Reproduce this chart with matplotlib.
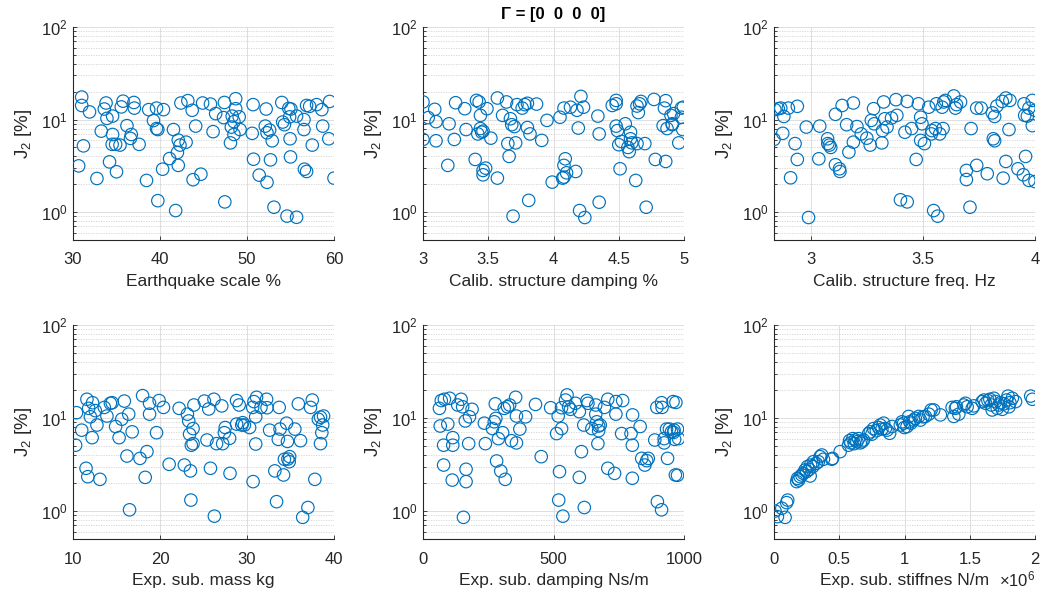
"""
J2 sensitivity scatter: six input parameters vs. J2 error, log y-axis.
"""
import matplotlib
matplotlib.use("Agg")
import matplotlib.pyplot as plt
from matplotlib.ticker import FixedLocator, FuncFormatter, LogLocator, NullFormatter

plt.rcParams['font.family'] = ['Liberation Sans', 'DejaVu Sans']
plt.rcParams['mathtext.fontset'] = 'custom'
plt.rcParams['mathtext.rm'] = 'Liberation Sans'
plt.rcParams['mathtext.it'] = 'Liberation Sans:italic'

# --- data --------------------------------------------------------------
quake_x = [30.65, 31.0, 31.0, 31.2, 31.9, 32.75, 33.25, 33.8, 33.6, 33.9, 34.2, 34.55, 34.55,
           34.5, 34.9, 35.0, 35.4, 35.55, 35.75, 36.2, 36.6, 36.7, 37.0, 37.05, 37.6, 38.45,
           38.7, 39.25, 39.6, 39.6, 39.75, 39.75, 40.3, 40.4, 41.1, 41.55, 41.8, 42.0, 42.1,
           42.1, 42.3, 42.4, 43.0, 43.2, 43.7, 43.8, 44.1, 44.7, 44.9, 45.8, 46.1, 46.4, 47.3,
           47.4, 47.45, 48.1, 48.2, 48.3, 48.5, 48.7, 48.7, 48.5, 49.1, 49.2, 50.6, 50.7,
           50.75, 51.4, 52.2, 52.3, 52.1, 52.3, 52.6, 52.7, 52.9, 53.1, 54.0, 54.1, 54.3, 54.6,
           54.8, 54.95, 55.0, 54.9, 55.05, 55.7, 55.7, 56.55, 56.55, 56.6, 56.85, 56.85, 57.2,
           57.5, 58.0, 58.6, 58.7, 59.4, 59.5, 60.0]
quake_j = [3.16, 17.5, 14.2, 5.2, 12.1, 2.31, 7.5, 15.1, 13.0, 10.3, 3.49, 6.9, 10.9, 5.4, 5.4,
           2.73, 5.3, 13.7, 15.8, 8.6, 6.26, 6.9, 15.3, 13.3, 5.4, 2.2, 12.8, 9.75, 13.3, 8.0,
           7.8, 1.33, 2.91, 12.8, 3.79, 7.8, 1.04, 4.4, 3.2, 6.0, 5.3, 15.1, 5.7, 16.0, 12.6,
           2.24, 8.5, 2.57, 15.1, 14.7, 7.4, 11.6, 10.5, 15.3, 1.29, 5.6, 8.3, 10.9, 9.5, 16.8,
           13.1, 6.9, 10.7, 7.8, 7.1, 14.5, 3.73, 2.51, 13.0, 2.1, 8.5, 7.2, 7.7, 3.67, 5.9,
           1.13, 15.3, 9.4, 8.8, 0.906, 13.2, 6.2, 3.95, 10.7, 13.0, 0.88, 10.9, 10.0, 7.8,
           2.91, 2.75, 14.2, 13.9, 5.3, 14.5, 12.8, 8.5, 6.2, 15.7, 2.33]

cdamp_x = [3.0, 3.0, 3.04, 3.09, 3.1, 3.1, 3.19, 3.2, 3.24, 3.25, 3.32, 3.33, 3.4, 3.41, 3.43,
           3.42, 3.44, 3.44, 3.45, 3.46, 3.46, 3.46, 3.48, 3.49, 3.52, 3.57, 3.57, 3.61, 3.64,
           3.65, 3.66, 3.67, 3.68, 3.69, 3.70, 3.71, 3.72, 3.76, 3.78, 3.80, 3.80, 3.81, 3.82,
           3.87, 3.91, 3.95, 3.99, 4.05, 4.07, 4.08, 4.08, 4.09, 4.08, 4.10, 4.13, 4.17, 4.19,
           4.18, 4.20, 4.21, 4.23, 4.24, 4.34, 4.35, 4.35, 4.45, 4.48, 4.48, 4.48, 4.49, 4.50,
           4.51, 4.52, 4.55, 4.57, 4.58, 4.59, 4.59, 4.60, 4.63, 4.64, 4.64, 4.65, 4.66, 4.67,
           4.70, 4.71, 4.77, 4.78, 4.85, 4.86, 4.86, 4.84, 4.87, 4.90, 4.91, 4.92, 4.98, 4.995,
           4.98, 4.91, 4.99, 4.96]
cdamp_j = [15.5, 6.1, 10.5, 12.9, 9.5, 5.9, 3.2, 9.0, 6.1, 15.2, 13.1, 7.8, 3.71, 16.1, 15.5,
           7.0, 8.0, 11.1, 7.3, 7.5, 2.82, 2.53, 2.99, 13.1, 6.3, 17.1, 2.33, 11.1, 15.5, 5.5,
           4.0, 10.2, 8.8, 0.905, 8.4, 5.6, 14.5, 13.3, 14.5, 15.0, 8.2, 1.34, 7.0, 14.7, 5.96,
           9.8, 2.11, 10.6, 2.33, 3.2, 13.3, 3.77, 2.39, 2.66, 13.6, 2.75, 8.1, 12.6, 1.04,
           17.8, 13.6, 0.875, 10.9, 7.0, 1.28, 14.2, 16.1, 14.8, 8.5, 7.6, 5.35, 2.94, 5.8,
           9.0, 5.0, 4.5, 7.3, 6.2, 5.6, 2.2, 14.0, 5.5, 11.9, 14.8, 15.7, 5.5, 1.13, 16.5,
           3.71, 13.3, 3.53, 16.0, 8.6, 8.0, 11.1, 8.8, 11.6, 13.3, 13.6, 10.6, 9.0, 7.8, 5.6]

cfreq_x = [2.836, 2.84, 2.855, 2.866, 2.875, 2.88, 2.90, 2.91, 2.93, 2.94, 2.94, 2.98, 2.99,
           3.036, 3.04, 3.075, 3.076, 3.083, 3.089, 3.11, 3.11, 3.128, 3.13, 3.14, 3.16, 3.17,
           3.19, 3.19, 3.206, 3.225, 3.25, 3.265, 3.27, 3.28, 3.283, 3.317, 3.32, 3.325, 3.33,
           3.34, 3.36, 3.38, 3.384, 3.40, 3.42, 3.43, 3.43, 3.45, 3.47, 3.48, 3.49, 3.49, 3.496,
           3.507, 3.526, 3.538, 3.54, 3.548, 3.556, 3.56, 3.566, 3.575, 3.586, 3.59, 3.593,
           3.60, 3.638, 3.645, 3.65, 3.668, 3.694, 3.694, 3.71, 3.715, 3.74, 3.74, 3.76, 3.787,
           3.81, 3.814, 3.82, 3.82, 3.83, 3.854, 3.858, 3.87, 3.87, 3.884, 3.888, 3.924, 3.948,
           3.951, 3.954, 3.958, 3.966, 3.973, 3.973, 3.988, 3.988, 4.0, 4.0]
cfreq_j = [6.1, 12.8, 13.1, 13.3, 7.1, 10.8, 13.3, 2.35, 5.5, 3.71, 13.9, 8.3, 0.875, 3.77,
           8.5, 6.2, 5.5, 5.3, 5.0, 11.4, 3.25, 2.94, 2.75, 14.2, 8.8, 4.45, 15.1, 5.7, 8.4,
           7.0, 6.3, 5.3, 9.8, 13.1, 9.0, 5.6, 7.6, 15.5, 10.2, 8.3, 10.4, 16.4, 11.1, 1.36,
           7.3, 15.7, 1.29, 8.0, 3.71, 14.8, 5.96, 10.6, 9.0, 5.5, 13.6, 7.0, 7.6, 1.04, 8.0,
           14.8, 0.905, 7.0, 13.6, 8.0, 15.5, 16.1, 18.0, 13.3, 14.5, 15.5, 2.82, 2.25, 1.13,
           8.0, 3.2, 13.3, 13.3, 2.6, 11.8, 6.2, 5.9, 10.8, 14.0, 15.7, 2.33, 17.1, 3.53, 7.8,
           16.1, 2.94, 2.53, 14.8, 11.1, 4.0, 10.9, 13.3, 2.2, 16.1, 8.6, 12.6, 2.14]

mass_x = [10.4, 10.3, 11.0, 11.5, 11.6, 11.7, 11.8, 12.0, 12.2, 12.25, 12.56, 12.75, 13.1, 13.6,
          13.9, 14.3, 14.5, 14.9, 15.3, 15.6, 15.9, 16.2, 16.4, 16.5, 16.8, 17.7, 18.0, 18.3,
          18.5, 18.8, 18.8, 19.6, 19.9, 20.4, 21.05, 22.2, 22.8, 23.15, 23.3, 23.4, 23.5, 23.55,
          23.6, 23.8, 23.8, 23.9, 25.1, 25.4, 25.6, 25.8, 26.2, 26.25, 26.5, 27.1, 27.2, 27.4,
          27.5, 28.0, 28.05, 28.8, 28.8, 29.1, 29.4, 29.5, 29.7, 30.3, 30.65, 30.7, 30.8, 31.0,
          31.0, 31.1, 31.6, 32.25, 32.3, 32.6, 33.2, 33.4, 33.6, 33.7, 33.8, 34.2, 34.3, 34.55,
          34.65, 34.7, 34.85, 34.9, 35.5, 35.9, 36.15, 36.4, 37.0, 37.3, 37.5, 37.8, 38.2,
          38.45, 38.6, 38.7, 38.8, 38.45]
mass_j = [11.4, 5.1, 7.4, 2.88, 15.9, 2.34, 12.7, 10.3, 6.15, 14.6, 12.0, 8.4, 2.19, 13.0, 10.5,
          14.4, 14.6, 8.1, 6.15, 9.7, 15.2, 3.9, 11.0, 1.03, 7.1, 3.68, 17.4, 2.3, 4.35, 14.4,
          11.0, 6.95, 15.4, 13.0, 3.18, 12.7, 3.12, 11.0, 9.3, 6.7, 2.7, 1.31, 5.1, 5.3, 7.7,
          13.8, 15.2, 5.8, 12.5, 2.88, 15.9, 0.88, 5.3, 13.5, 5.3, 6.95, 7.9, 6.05, 2.54, 15.4,
          8.6, 13.8, 8.4, 8.9, 8.4, 7.9, 13.0, 2.07, 15.0, 10.3, 5.25, 16.7, 13.0, 15.9, 12.9,
          7.4, 2.7, 1.26, 5.9, 13.0, 7.6, 2.44, 3.6, 8.8, 5.6, 3.62, 3.39, 3.84, 7.6, 14.2, 5.7,
          0.855, 1.09, 13.0, 15.6, 2.19, 9.7, 5.3, 6.95, 8.4, 10.5, 10.2]

sdamp_x = [63, 70, 66, 79, 79, 82, 95, 102, 112, 114, 114, 133, 146, 152, 155, 162, 165, 165,
           175, 178, 188, 239, 235, 266, 273, 277, 279, 282, 289, 298, 305, 311, 315, 324, 332,
           339, 355, 358, 358, 371, 393, 431, 453, 489, 512, 518, 523, 520, 531, 531, 536, 546,
           552, 558, 565, 584, 599, 599, 607, 616, 618, 628, 632, 647, 662, 662, 666, 670, 673,
           673, 679, 695, 708, 708, 734, 739, 739, 761, 765, 797, 802, 802, 803, 832, 838, 850,
           857, 863, 888, 896, 898, 914, 914, 916, 924, 924, 933, 937, 952, 958, 962, 964, 967,
           969, 960, 975, 979, 975, 944]
sdamp_j = [12.7, 15.4, 8.2, 5.1, 3.12, 15.9, 8.6, 16.3, 2.15, 6.15, 5.1, 13.8, 15.9, 13.2, 0.855,
           9.3, 2.81, 2.07, 5.3, 10.3, 12.4, 5.3, 8.8, 7.7, 9.1, 14.2, 9.9, 3.45, 6.0, 2.69, 6.95,
           12.7, 2.19, 13.2, 13.8, 5.7, 16.7, 10.5, 5.4, 7.6, 10.3, 14.0, 3.84, 12.9, 6.8, 10.5,
           2.65, 1.31, 7.7, 12.9, 0.88, 15.6, 17.7, 13.2, 12.4, 14.4, 11.7, 2.3, 4.35, 8.4, 1.09,
           15.4, 14.4, 7.7, 13.8, 11.0, 9.1, 5.3, 8.2, 7.3, 8.4, 13.0, 15.9, 2.88, 2.54, 15.0,
           11.0, 6.8, 15.4, 6.8, 5.1, 2.25, 10.8, 8.1, 3.68, 3.12, 3.48, 3.68, 5.8, 13.0, 1.26,
           14.6, 1.03, 13.0, 6.0, 5.4, 7.6, 3.68, 7.1, 15.0, 7.4, 5.9, 2.44, 14.7, 7.0, 7.6,
           6.0, 2.42, 7.6]

# stiffness in units of 1e6 N/m
stiff_x = [0.008, 0.026, 0.06, 0.085, 0.097, 0.105, 0.174, 0.18, 0.19, 0.2, 0.213, 0.225, 0.238,
           0.25, 0.256, 0.27, 0.277, 0.28, 0.297, 0.302, 0.323, 0.34, 0.353, 0.366, 0.379,
           0.443, 0.448, 0.507, 0.571, 0.579, 0.589, 0.604, 0.615, 0.622, 0.635, 0.648, 0.661,
           0.673, 0.686, 0.725, 0.738, 0.75, 0.763, 0.784, 0.801, 0.814, 0.827, 0.84, 0.853,
           0.866, 0.886, 0.904, 0.968, 0.981, 0.994, 0.999, 1.019, 1.032, 1.04, 1.05, 1.07,
           1.083, 1.109, 1.122, 1.142, 1.16, 1.186, 1.204, 1.224, 1.275, 1.365, 1.378, 1.39,
           1.398, 1.416, 1.455, 1.467, 1.48, 1.519, 1.531, 1.595, 1.608, 1.621, 1.639, 1.654,
           1.665, 1.672, 1.685, 1.698, 1.711, 1.723, 1.736, 1.749, 1.762, 1.782, 1.793, 1.8,
           1.808, 1.826, 1.851, 1.967, 1.98]
stiff_j = [1.0, 0.87, 1.07, 0.855, 1.23, 1.31, 2.07, 2.24, 2.15, 2.34, 2.44, 2.54, 2.76, 2.65,
           3.0, 2.8, 2.38, 3.12, 3.0, 3.39, 3.25, 3.39, 3.84, 4.0, 3.6, 3.6, 3.68, 4.35, 5.1,
           5.7, 5.4, 6.0, 5.3, 5.8, 5.55, 6.0, 5.4, 5.55, 5.8, 6.8, 7.1, 6.7, 7.7, 7.3, 7.9,
           8.4, 7.6, 8.8, 7.7, 7.4, 6.85, 8.1, 8.4, 9.1, 8.8, 7.9, 8.1, 10.4, 9.1, 8.8, 9.5,
           9.9, 10.4, 9.5, 10.3, 10.4, 11.0, 12.2, 12.2, 10.8, 13.0, 10.4, 12.7, 13.2, 11.0,
           13.8, 14.4, 13.2, 12.7, 13.5, 15.0, 15.6, 14.4, 15.4, 15.9, 13.8, 12.2, 16.3, 15.0,
           12.7, 13.8, 14.6, 12.4, 14.2, 15.6, 17.2, 13.2, 14.6, 16.3, 15.0, 17.2, 15.9]

panels = [
    (quake_x, quake_j, "Earthquake scale %", (30, 60), [30, 40, 50, 60]),
    (cdamp_x, cdamp_j, "Calib. structure damping %", (3, 5), [3, 3.5, 4, 4.5, 5]),
    (cfreq_x, cfreq_j, "Calib. structure freq. Hz", (2.836, 4), [3, 3.5, 4]),
    (mass_x, mass_j, "Exp. sub. mass kg", (10, 40), [10, 20, 30, 40]),
    (sdamp_x, sdamp_j, "Exp. sub. damping Ns/m", (0, 1000), [0, 500, 1000]),
    (stiff_x, stiff_j, "Exp. sub. stiffnes N/m", (0, 2), [0, 0.5, 1, 1.5, 2]),
]

blue = "#0072BD"
dark = "#262626"
lefts = [73, 423, 774]
rows = [(27, 240), (325, 539)]
W, H = 1042, 595

fig = plt.figure(figsize=(W / 100, H / 100), dpi=100)
for i, (x, y, xlab, xlim, xt) in enumerate(panels):
    top, bot = rows[i // 3]
    l = lefts[i % 3]
    ax = fig.add_axes([l / W, 1 - bot / H, 261 / W, (bot - top) / H])
    ax.set_yscale("log")
    ax.scatter(x, y, s=80, facecolors="none", edgecolors=blue, linewidths=0.85, zorder=3)
    ax.set_xlim(*xlim)
    ax.set_ylim(0.5, 100)
    ax.xaxis.set_major_locator(FixedLocator(xt))
    ax.xaxis.set_major_formatter(FuncFormatter(lambda v, p: f"{v:g}"))
    ax.yaxis.set_major_locator(LogLocator(base=10, numticks=5))
    ax.yaxis.set_minor_locator(LogLocator(base=10, subs=range(2, 10), numticks=20))
    ax.yaxis.set_minor_formatter(NullFormatter())
    ax.grid(True, which="major", color="#dedede", lw=0.7, ls="-", zorder=0)
    ax.grid(True, which="minor", axis="y", color="#d3d3d3", lw=0.6, ls=(0, (1.5, 1.5)), zorder=0)
    for s in ("top", "right"):
        ax.spines[s].set_visible(False)
    for s in ("left", "bottom"):
        ax.spines[s].set_color(dark)
        ax.spines[s].set_linewidth(0.8)
    ax.tick_params(which="both", direction="in", colors=dark, labelsize=12, width=0.6)
    ax.tick_params(which="major", length=3)
    ax.tick_params(which="minor", length=1.8)
    ax.tick_params(axis="x", pad=9)
    ax.tick_params(axis="y", pad=4)
    ax.set_xlabel(xlab, fontsize=12.5, color=dark, labelpad=5)
    ax.set_ylabel(r"J$_2$ [%]", fontsize=13.5, color=dark, labelpad=5)
    if i == 1:
        ax.set_title("Γ = [0  0  0  0]", fontsize=12, fontweight="bold",
                     color="black", pad=6)
    if i == 5:
        ax.text(1.0, -0.222, r"$\times\mathregular{10^6}$", transform=ax.transAxes,
                ha="right", va="baseline", fontsize=12, color=dark)

fig.savefig("out.png", dpi=100)
